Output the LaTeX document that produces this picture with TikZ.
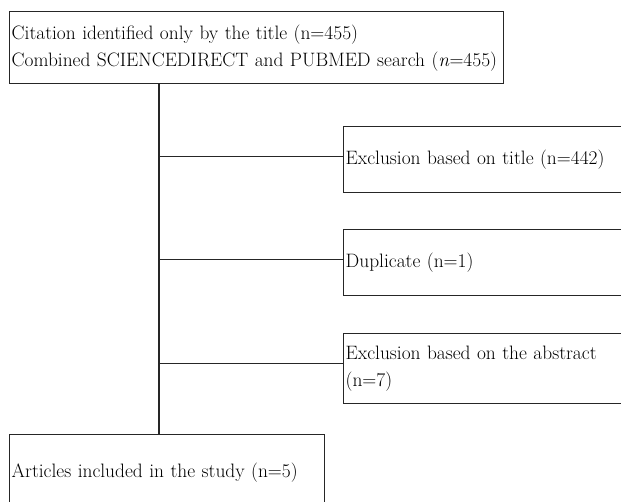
\documentclass[tikz,border=0pt]{standalone}
\usepackage{fontspec}
\begin{document}
\begin{tikzpicture}[x=1pt,y=-1pt,
  every node/.style={font=\fontsize{19.4}{27}\selectfont},
  box/.style={draw=black!85, line width=1.4pt, rectangle, anchor=north west, align=left, inner xsep=1.5pt, inner ysep=0pt},
  link/.style={draw=black!85, line width=1.4pt}]
\useasboundingbox (0,0) rectangle (621,501);
\node[box, minimum width=494pt, minimum height=72pt, text width=490pt] (top) at (9,11)
  {\mbox{Citation identified only by the title (n=455)}\\\mbox{Combined SCIENCEDIRECT and PUBMED search (\textit{n}=455)}};
\node[box, minimum width=290pt, minimum height=66pt, text width=286pt] (ex1) at (343,126)
  {Exclusion based on title (n=442)};
\node[box, minimum width=290pt, minimum height=66pt, text width=286pt] (ex2) at (343,229)
  {Duplicate (n=1)};
\node[box, minimum width=290pt, minimum height=70pt, text width=286pt] (ex3) at (343,333)
  {Exclusion based on the abstract\\(n=7)};
\node[box, minimum width=315pt, minimum height=76pt, text width=311pt] (fin) at (9,434)
  {Articles included in the study (n=5)};
\path (top.south west) ++(150,0) coordinate (trunk);
\draw[link] (trunk) -- (trunk |- fin.north);
\draw[link] ([yshift=3pt]trunk |- ex1.west) -- ([yshift=3pt]ex1.west);
\draw[link] ([yshift=3pt]trunk |- ex2.west) -- ([yshift=3pt]ex2.west);
\draw[link] ([yshift=5pt]trunk |- ex3.west) -- ([yshift=5pt]ex3.west);
\end{tikzpicture}
\end{document}
